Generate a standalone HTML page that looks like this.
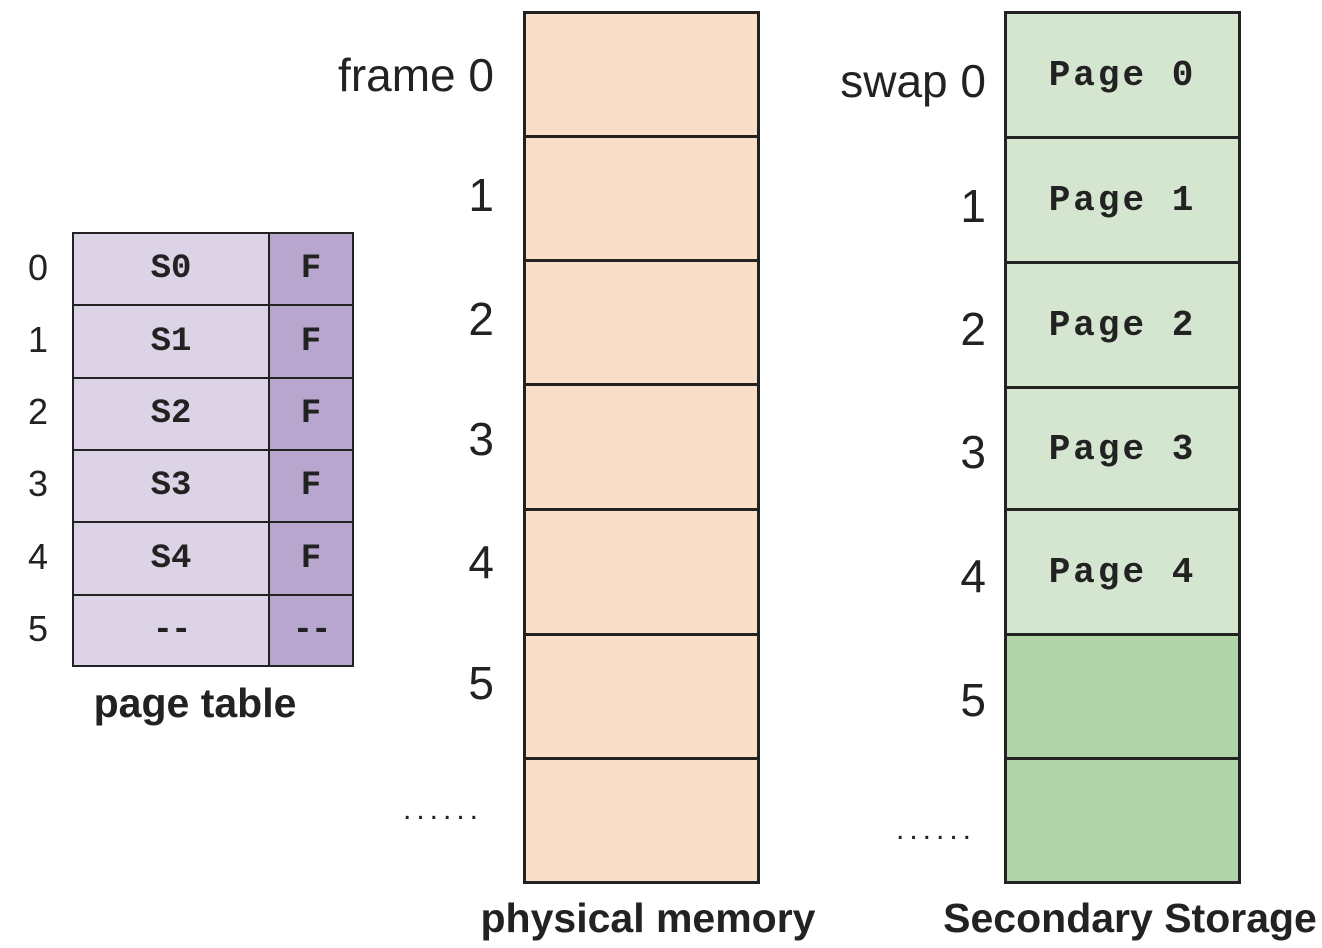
<!DOCTYPE html>
<html><head><style>
body{margin:0;width:1322px;height:948px;background:#fff;position:relative;overflow:hidden;font-family:"Liberation Sans",sans-serif;}
.a{position:absolute;box-sizing:border-box;}
.c{position:absolute;display:flex;align-items:center;justify-content:center;box-sizing:border-box;border:2px solid #222;}
.m{font-family:"Liberation Mono",monospace;font-weight:bold;color:#222;}
.p{font-size:36px;letter-spacing:3px;}
.l{position:absolute;font-size:46px;color:#222;line-height:1;}
.r{text-align:right;}
.d{position:absolute;font-size:30px;letter-spacing:5px;color:#222;line-height:1;}
</style></head><body>
<!-- page table -->
<div class="c m" style="left:72px;top:232px;width:198px;height:74px;background:#dcd3e6;font-size:34px">S0</div>
<div class="c m" style="left:268px;top:232px;width:86px;height:74px;background:#b9a6cf;font-size:34px">F</div>
<div class="c m" style="left:72px;top:304px;width:198px;height:75px;background:#dcd3e6;font-size:34px">S1</div>
<div class="c m" style="left:268px;top:304px;width:86px;height:75px;background:#b9a6cf;font-size:34px">F</div>
<div class="c m" style="left:72px;top:377px;width:198px;height:74px;background:#dcd3e6;font-size:34px">S2</div>
<div class="c m" style="left:268px;top:377px;width:86px;height:74px;background:#b9a6cf;font-size:34px">F</div>
<div class="c m" style="left:72px;top:449px;width:198px;height:74px;background:#dcd3e6;font-size:34px">S3</div>
<div class="c m" style="left:268px;top:449px;width:86px;height:74px;background:#b9a6cf;font-size:34px">F</div>
<div class="c m" style="left:72px;top:521px;width:198px;height:75px;background:#dcd3e6;font-size:34px">S4</div>
<div class="c m" style="left:268px;top:521px;width:86px;height:75px;background:#b9a6cf;font-size:34px">F</div>
<div class="c m" style="left:72px;top:594px;width:198px;height:73px;background:#dcd3e6;font-size:34px;letter-spacing:-2px">--</div>
<div class="c m" style="left:268px;top:594px;width:86px;height:73px;background:#b9a6cf;font-size:34px;letter-spacing:-2px">--</div>
<div class="l" style="left:28px;top:250px;font-size:36px">0</div>
<div class="l" style="left:28px;top:322px;font-size:36px">1</div>
<div class="l" style="left:28px;top:394px;font-size:36px">2</div>
<div class="l" style="left:28px;top:466px;font-size:36px">3</div>
<div class="l" style="left:28px;top:539px;font-size:36px">4</div>
<div class="l" style="left:28px;top:611px;font-size:36px">5</div>
<div class="l" style="left:45px;top:683px;width:300px;text-align:center;font-size:41px;font-weight:bold">page table</div>
<!-- physical memory -->
<div class="c" style="left:523px;top:11px;width:237px;height:127px;background:#f9dec8;border-width:3px"></div>
<div class="c" style="left:523px;top:135px;width:237px;height:128px;background:#f9dec8;border-width:3px"></div>
<div class="c" style="left:523px;top:259px;width:237px;height:128px;background:#f9dec8;border-width:3px"></div>
<div class="c" style="left:523px;top:383px;width:237px;height:129px;background:#f9dec8;border-width:3px"></div>
<div class="c" style="left:523px;top:508px;width:237px;height:129px;background:#f9dec8;border-width:3px"></div>
<div class="c" style="left:523px;top:633px;width:237px;height:128px;background:#f9dec8;border-width:3px"></div>
<div class="c" style="left:523px;top:757px;width:237px;height:127px;background:#f9dec8;border-width:3px"></div>
<div class="l r" style="left:290px;width:204px;top:52px">frame 0</div>
<div class="l r" style="left:400px;width:94px;top:172px">1</div>
<div class="l r" style="left:400px;width:94px;top:296px">2</div>
<div class="l r" style="left:400px;width:94px;top:416px">3</div>
<div class="l r" style="left:400px;width:94px;top:539px">4</div>
<div class="l r" style="left:400px;width:94px;top:660px">5</div>
<div class="d" style="left:403px;top:795px">......</div>
<div class="l" style="left:448px;top:898px;width:400px;text-align:center;font-size:41px;font-weight:bold">physical memory</div>
<!-- secondary -->
<div class="c m p" style="left:1004px;top:11px;width:237px;height:128px;background:#d5e6d0;border-width:3px">Page 0</div>
<div class="c m p" style="left:1004px;top:136px;width:237px;height:129px;background:#d5e6d0;border-width:3px">Page 1</div>
<div class="c m p" style="left:1004px;top:261px;width:237px;height:129px;background:#d5e6d0;border-width:3px">Page 2</div>
<div class="c m p" style="left:1004px;top:386px;width:237px;height:126px;background:#d5e6d0;border-width:3px">Page 3</div>
<div class="c m p" style="left:1004px;top:508px;width:237px;height:129px;background:#d5e6d0;border-width:3px">Page 4</div>
<div class="c" style="left:1004px;top:633px;width:237px;height:128px;background:#b0d3a8;border-width:3px"></div>
<div class="c" style="left:1004px;top:757px;width:237px;height:127px;background:#b0d3a8;border-width:3px"></div>
<div class="l r" style="left:760px;width:226px;top:58px">swap 0</div>
<div class="l r" style="left:900px;width:86px;top:183px">1</div>
<div class="l r" style="left:900px;width:86px;top:306px">2</div>
<div class="l r" style="left:900px;width:86px;top:429px">3</div>
<div class="l r" style="left:900px;width:86px;top:553px">4</div>
<div class="l r" style="left:900px;width:86px;top:677px">5</div>
<div class="d" style="left:896px;top:815px">......</div>
<div class="l" style="left:920px;top:898px;width:420px;text-align:center;font-size:41px;font-weight:bold">Secondary Storage</div>
</body></html>
